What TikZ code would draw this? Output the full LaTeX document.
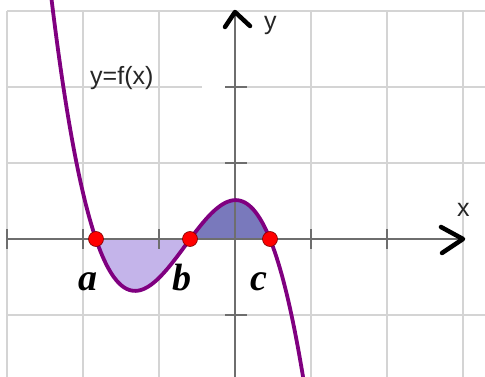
\documentclass[tikz,border=0pt]{standalone}
\usepackage{fontspec}
\setmainfont{Liberation Serif}
\newfontfamily\labsans{Liberation Sans}
\definecolor{gridc}{RGB}{212,212,212}
\definecolor{axisc}{RGB}{110,110,110}
\definecolor{curvec}{RGB}{128,0,128}
\definecolor{lightfill}{RGB}{196,180,234}
\definecolor{darkfill}{RGB}{121,121,188}
\tikzset{
  gridline/.style={draw=gridc, line width=1.3pt},
  axisline/.style={draw=axisc, line width=1.5pt},
  tickline/.style={draw=axisc, line width=1.5pt},
  chevron/.style={draw=black, line width=4.5pt, line cap=round, line join=round},
  curve/.style={draw=curvec, line width=3.8pt},
  rootdot/.style={circle, fill=red, draw=red!50!black, line width=0.6pt, minimum size=15pt, inner sep=0pt},
  rootlab/.style={font=\fontsize{38}{38}\selectfont\bfseries\itshape, anchor=base, inner sep=0pt},
  axislab/.style={font=\labsans\fontsize{25}{25}\selectfont, text=black!85, inner sep=0pt},
}
\pgfmathdeclarefunction{fc}{1}{\pgfmathparse{-1.03*(#1+1.83)*(#1+0.59)*(#1-0.46)}}
\begin{document}
\begin{tikzpicture}[x=1pt,y=-1pt]
\useasboundingbox (0,0) rectangle (485,377);
\fill[white] (0,0) rectangle (485,377);
% grid
\foreach \gx in {7,83,159,311,387,463}
  \draw[gridline] (\gx,11) -- (\gx,377);
\foreach \gy in {11,163,315}
  \draw[gridline] (7,\gy) -- (485,\gy);
\draw[gridline] (7,87) -- (202,87);
\draw[gridline] (226,87) -- (485,87);
% fills
\fill[lightfill] (96,239) -- plot[domain=-1.83:-0.59, samples=60, smooth] ({235+76*\x},{239-76*fc(\x)}) -- cycle;
\fill[darkfill] (190,239) -- plot[domain=-0.59:0.46, samples=60, smooth] ({235+76*\x},{239-76*fc(\x)}) -- cycle;
% axes
\coordinate (xs) at (7,239);
\coordinate (xe) at (463,239);
\coordinate (ys) at (235,377);
\coordinate (ye) at (235,12);
\draw[axisline] (xs) -- (xe);
\draw[axisline] (ys) -- (ye);
\foreach \tx in {7,83,159,311,387}
  \draw[tickline] (\tx,229) -- (\tx,249);
\foreach \ty in {87,163,315}
  \draw[tickline] (225,\ty) -- (247,\ty);
% curve
\begin{scope}
\clip (0,0) rectangle (485,377);
\draw[curve] plot[domain=-2.47:1.0, samples=120, smooth] ({235+76*\x},{239-76*fc(\x)});
\end{scope}
% arrowheads
\draw[chevron] (441,227) -- (xe) -- (442,253);
\draw[chevron] (225,27) -- (ye) -- (250,26);
% labels
\node[axislab, anchor=base west] (ylab) at (264,30) {y};
\node[axislab, anchor=base west] (xlab) at (457,217) {x};
\node[axislab, anchor=base west] (flab) at (90,85) {y=f(x)};
% roots
\node[rootdot] (a) at (96,239) {};
\node[rootdot] (b) at (190,239) {};
\node[rootdot] (c) at (270,239) {};
\node[rootlab] (al) at (88,290) {a};
\node[rootlab] (bl) at (182,290) {b};
\node[rootlab] (cl) at (259,290) {c};
\end{tikzpicture}
\end{document}
